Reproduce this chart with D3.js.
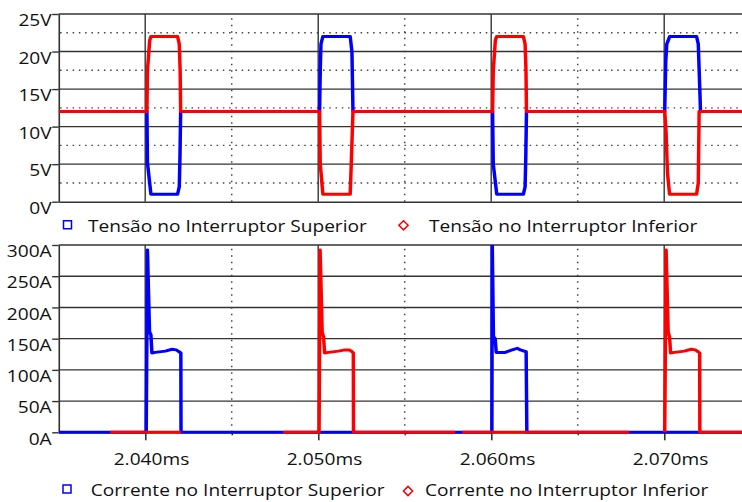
<!DOCTYPE html>
<head>
  <meta charset="utf-8">
  <style>
    body { margin: 0; background: #fff; }
    svg text { font-family: 'Open Sans', sans-serif; font-size: 16.5px; fill: #111; }
    .domain, .tick line { stroke: #333; stroke-width: 1.4; }
  </style>
</head>
<body>
  <script src="https://cdn.jsdelivr.net/npm/d3@7"></script>
  <script>
    // values, time in ms
    const tVSup = [2.035,
      2.04010, 2.04013, 2.04033, 2.04187, 2.04197, 2.04201, 2.04205,
      2.05008, 2.05012, 2.05016, 2.05027, 2.05185, 2.05195, 2.05201,
      2.06008, 2.06012, 2.06032, 2.06186, 2.06196, 2.06200, 2.06204,
      2.07003, 2.07009, 2.07015, 2.07032, 2.07187, 2.07197, 2.07210,
      2.075];
    const vSup = [12,
      12, 5.2, 1.0, 1.0, 2, 6, 12,
      12, 17.5, 21, 22, 22, 20, 12,
      12, 5, 1, 1, 2, 6, 12,
      12, 18.7, 21, 22, 22, 21, 12,
      12];

    const tVInf = [2.035,
      2.04010, 2.04013, 2.04026, 2.04033, 2.04187, 2.04197, 2.04202, 2.04205,
      2.05008, 2.05012, 2.05027, 2.05185, 2.05191, 2.05201,
      2.06008, 2.06012, 2.06024, 2.06032, 2.06186, 2.06196, 2.06201, 2.06204,
      2.07003, 2.07011, 2.07019, 2.07031, 2.07187, 2.07197, 2.07202,
      2.075];
    const vInf = [12,
      12, 17.5, 21.5, 22, 22, 21, 17.5, 12,
      12, 5, 1, 1, 5, 12,
      12, 17.5, 21.5, 22, 22, 21, 17.5, 12,
      12, 9.2, 3.8, 1, 1, 2.5, 12,
      12];

    const tISup = [2.035,
      2.04006, 2.04013, 2.04025, 2.04033, 2.04039, 2.04058, 2.04116, 2.04156, 2.04179, 2.04196, 2.04206, 2.04207,
      2.06004, 2.06006, 2.06013, 2.06023, 2.06029, 2.06081, 2.06121, 2.06150, 2.06168, 2.06202, 2.06206,
      2.075];
    const iSup = [0,
      0, 292, 161, 156, 127, 128, 130, 133, 132, 129, 127, 0,
      0, 305, 153, 150, 128, 128, 132, 134.5, 132, 129, 0,
      0];

    // red current only where it shows on top of the blue one (null = hidden)
    const tIInf = [2.03798, 2.04208, 2.04208,
      2.04798, 2.05005, 2.05011, 2.05023, 2.05031, 2.05037, 2.05060, 2.05116, 2.05156, 2.05180, 2.05196, 2.05203, 2.05204, 2.05792, 2.05792,
      2.05832, 2.06798, 2.06798,
      2.07003, 2.07011, 2.07023, 2.07031, 2.07037, 2.07060, 2.07116, 2.07156, 2.07180, 2.07196, 2.07205, 2.07206, 2.075];
    const iInf = [0, 0, null,
      0, 0, 292, 160, 153, 127, 128, 130, 132, 132, 129, 127, 0, 0, null,
      0, 0, null,
      0, 292, 160, 153, 127, 128, 130, 133, 132, 129, 127, 0, 0];

    const xTicks = [2.040, 2.050, 2.060, 2.070];
    const xMinor = [2.045, 2.055, 2.065];
    const vTicks = [0, 5, 10, 15, 20, 25];
    const vDots = [2.5, 7.5, 12.5, 17.5, 22.5];
    const iTicks = [0, 50, 100, 150, 200, 250, 300];
    const legendV = ["Tensão no Interruptor Superior", "Tensão no Interruptor Inferior"];
    const legendI = ["Corrente no Interruptor Superior", "Corrente no Interruptor Inferior"];

    // the picture is stretched sideways, so draw in a narrower box and let the svg stretch it
    const width = 742, height = 502, vbw = 640;
    const SX = width / vbw;
    const px = v => v / SX;

    const svg = d3.select("body").append("svg")
      .attr("width", width).attr("height", height)
      .attr("viewBox", `0 0 ${vbw} ${height}`)
      .attr("preserveAspectRatio", "none");

    const x = d3.scaleLinear().domain([2.035, 2.075]).range([px(58.7), px(58.7 + 0.040 * 17300)]);
    const yV = d3.scaleLinear().domain([0, 25]).range([201.7, 14]);
    const yI = d3.scaleLinear().domain([0, 300]).range([432.3, 245]);
    const xRight = px(width);

    function grid(g, yScale, solidY, dotY) {
      g.selectAll(".hs").data(solidY).enter().append("line")
        .attr("x1", x.range()[0]).attr("x2", xRight)
        .attr("y1", d => yScale(d)).attr("y2", d => yScale(d))
        .attr("stroke", "#333").attr("stroke-width", 1.4);
      g.selectAll(".hd").data(dotY).enter().append("line")
        .attr("x1", x.range()[0] + 1.2).attr("x2", xRight)
        .attr("y1", d => yScale(d)).attr("y2", d => yScale(d))
        .attr("stroke", "#444").attr("stroke-width", 1.4).attr("stroke-dasharray", "1.3,4.1");
      const [y0, y1] = yScale.range();
      g.selectAll(".vs").data(xTicks).enter().append("line")
        .attr("x1", d => x(d)).attr("x2", d => x(d))
        .attr("y1", y0).attr("y2", y1)
        .attr("stroke", "#333").attr("stroke-width", 1.2);
      g.selectAll(".vd").data(xMinor).enter().append("line")
        .attr("x1", d => x(d)).attr("x2", d => x(d))
        .attr("y1", y0).attr("y2", y1 + 3)
        .attr("stroke", "#444").attr("stroke-width", 1.3).attr("stroke-dasharray", "1.5,5");
    }

    function series(g, ts, vs, yScale, color) {
      const pts = ts.map((t, i) => [t, vs[i]]);
      const line = d3.line().defined(d => d[1] !== null).x(d => x(d[0])).y(d => yScale(d[1]));
      g.append("path").datum(pts).attr("d", line)
        .attr("fill", "none").attr("stroke", color).attr("stroke-width", 3)
        .attr("stroke-linejoin", "round");
    }

    function clip(id, y0, y1) {
      svg.append("clipPath").attr("id", id).append("rect")
        .attr("x", x.range()[0]).attr("y", y0)
        .attr("width", xRight - x.range()[0]).attr("height", y1 - y0);
    }
    clip("clipV", 12, 204);
    clip("clipI", 245, 434);

    //----- top: tensões
    grid(svg.append("g"), yV, vTicks.filter(d => d > 0), vDots);
    const axV = svg.append("g").attr("transform", `translate(${x.range()[0]},0)`)
      .call(d3.axisLeft(yV).tickValues(vTicks).tickFormat(d => d + "V")
        .tickSize(px(6.5)).tickPadding(px(0.5)).tickSizeOuter(0));
    axV.selectAll(".tick text").attr("dy", "0.71em");
    svg.append("g").attr("transform", `translate(0,${yV(0)})`)
      .call(d3.axisBottom(x).tickValues([]).tickSizeOuter(0));

    const linesV = svg.append("g").attr("clip-path", "url(#clipV)");
    series(linesV, tVSup, vSup, yV, "#0000ff");
    series(linesV, tVInf, vInf, yV, "#ff0000");

    //----- bottom: correntes
    grid(svg.append("g"), yI, iTicks.filter(d => d > 0), []);
    const axI = svg.append("g").attr("transform", `translate(${x.range()[0]},0)`)
      .call(d3.axisLeft(yI).tickValues(iTicks).tickFormat(d => d + "A")
        .tickSize(px(6.5)).tickPadding(px(0.5)).tickSizeOuter(0));
    axI.selectAll(".tick text").attr("dy", "0.71em");

    const axX = svg.append("g").attr("transform", `translate(0,${yI(0)})`)
      .call(d3.axisBottom(x).tickValues(xTicks).tickFormat(d => d3.format(".3f")(d) + "ms")
        .tickSize(8).tickPadding(13).tickSizeOuter(0));
    axX.selectAll(".tick text").attr("dx", px(5.7));
    svg.append("g").attr("transform", `translate(0,${yI(0)})`)
      .call(d3.axisBottom(x).tickValues(xMinor).tickFormat("").tickSize(3).tickSizeOuter(0))
      .select(".domain").remove();

    const linesI = svg.append("g").attr("clip-path", "url(#clipI)");
    series(linesI, tISup, iSup, yI, "#0000ff");
    series(linesI, tIInf, iInf, yI, "#ff0000");

    //----- legends
    const square = d3.symbol(d3.symbolSquare, 64);
    const diamond = "M0,-4.6L4.6,0L0,4.6L-4.6,0Z";
    function legend(labels, y, sqX, txt1, diaX, txt2, dy) {
      svg.append("path").attr("d", square())
        .attr("transform", `translate(${px(sqX)},${y - 0.5}) scale(${1 / SX},1)`)
        .attr("fill", "none").attr("stroke", "#0000ff").attr("stroke-width", 1.5);
      svg.append("path").attr("d", diamond)
        .attr("transform", `translate(${px(diaX)},${y + dy}) scale(${1 / SX},1)`)
        .attr("fill", "none").attr("stroke", "#ff0000").attr("stroke-width", 1.5);
      svg.append("text").attr("x", px(txt1)).attr("y", y + 6.8).text(labels[0]);
      svg.append("text").attr("x", px(txt2)).attr("y", y + 6.8).text(labels[1]);
    }
    legend(legendV, 225.3, 67.5, 88, 403.5, 429, 0);
    legend(legendI, 489.5, 67, 90.7, 408, 425, 1.5);
  </script>
</body>
